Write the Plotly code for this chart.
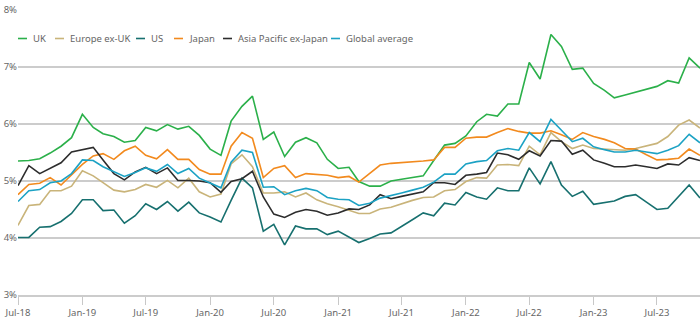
import pandas as pd
import plotly.graph_objects as go

months = pd.date_range("2018-07-01", "2023-11-01", freq="MS")

uk = [5.35, 5.36, 5.39, 5.49, 5.61, 5.76, 6.17, 5.94, 5.83, 5.78, 5.68, 5.71, 5.94, 5.88, 5.99, 5.91,
      5.96, 5.80, 5.56, 5.45, 6.05, 6.31, 6.49, 5.73, 5.86, 5.43, 5.68, 5.76, 5.67, 5.38, 5.22, 5.24,
      4.99, 4.91, 4.91, 5.00, 5.03, 5.06, 5.09, 5.36, 5.63, 5.66, 5.79, 6.04, 6.17, 6.14, 6.35, 6.35,
      7.08, 6.79, 7.57, 7.36, 6.96, 6.98, 6.71, 6.59, 6.46, 6.51, 6.56, 6.61, 6.66, 6.76, 6.72, 7.16, 6.98]
europe = [4.22, 4.57, 4.59, 4.83, 4.83, 4.91, 5.18, 5.09, 4.97, 4.84, 4.81, 4.85, 4.94, 4.89, 5.01, 4.88,
          5.05, 4.81, 4.72, 4.77, 5.30, 5.46, 5.25, 4.79, 4.79, 4.81, 4.72, 4.79, 4.67, 4.60, 4.55, 4.48,
          4.43, 4.43, 4.51, 4.54, 4.60, 4.66, 4.71, 4.72, 4.83, 4.85, 4.99, 5.06, 5.05, 5.28, 5.29, 5.27,
          5.61, 5.46, 5.85, 5.69, 5.57, 5.63, 5.57, 5.56, 5.55, 5.54, 5.57, 5.61, 5.66, 5.78, 5.98, 6.07, 5.93]
us = [4.01, 4.01, 4.19, 4.20, 4.29, 4.43, 4.67, 4.67, 4.48, 4.49, 4.26, 4.39, 4.60, 4.50, 4.64, 4.47,
      4.63, 4.44, 4.37, 4.28, 4.66, 5.05, 4.88, 4.12, 4.24, 3.88, 4.21, 4.16, 4.16, 4.06, 4.12, 4.02,
      3.92, 3.99, 4.07, 4.09, 4.21, 4.32, 4.44, 4.39, 4.61, 4.58, 4.80, 4.72, 4.68, 4.88, 4.83, 4.83,
      5.23, 4.95, 5.34, 4.93, 4.73, 4.82, 4.59, 4.62, 4.65, 4.73, 4.76, 4.63, 4.50, 4.52, 4.73, 4.93, 4.70]
japan = [4.76, 4.94, 4.96, 5.06, 4.93, 5.10, 5.29, 5.44, 5.48, 5.38, 5.53, 5.61, 5.45, 5.39, 5.55, 5.38,
         5.38, 5.20, 5.12, 5.12, 5.61, 5.85, 5.75, 5.06, 5.22, 5.27, 5.06, 5.13, 5.12, 5.10, 5.06, 5.08,
         4.98, 5.13, 5.28, 5.31, 5.32, 5.34, 5.35, 5.37, 5.59, 5.59, 5.75, 5.77, 5.77, 5.85, 5.92, 5.87,
         5.84, 5.84, 5.88, 5.81, 5.73, 5.85, 5.78, 5.73, 5.67, 5.57, 5.56, 5.46, 5.37, 5.38, 5.40, 5.56, 5.45]
asia = [4.92, 5.27, 5.13, 5.22, 5.32, 5.51, 5.55, 5.59, 5.37, 5.13, 5.02, 5.16, 5.24, 5.13, 5.23, 5.01,
        5.01, 5.00, 4.97, 4.80, 4.99, 5.04, 5.17, 4.72, 4.42, 4.36, 4.45, 4.50, 4.47, 4.40, 4.44, 4.51,
        4.50, 4.58, 4.76, 4.69, 4.73, 4.77, 4.81, 4.97, 4.97, 4.94, 5.10, 5.12, 5.15, 5.49, 5.46, 5.38,
        5.53, 5.44, 5.71, 5.70, 5.47, 5.54, 5.37, 5.31, 5.25, 5.25, 5.28, 5.25, 5.22, 5.30, 5.28, 5.41, 5.36]
glob = [4.64, 4.83, 4.85, 4.97, 5.00, 5.13, 5.37, 5.36, 5.25, 5.16, 5.08, 5.15, 5.23, 5.17, 5.29, 5.13,
        5.22, 5.05, 4.97, 4.88, 5.33, 5.54, 5.50, 4.89, 4.90, 4.76, 4.83, 4.87, 4.83, 4.71, 4.68, 4.67,
        4.57, 4.61, 4.70, 4.74, 4.79, 4.84, 4.89, 4.98, 5.12, 5.12, 5.30, 5.34, 5.36, 5.53, 5.57, 5.54,
        5.85, 5.69, 6.08, 5.89, 5.69, 5.75, 5.60, 5.55, 5.51, 5.51, 5.54, 5.51, 5.48, 5.54, 5.62, 5.82, 5.67]

names = ["UK", "Europe ex-UK", "US", "Japan", "Asia Pacific ex-Japan", "Global average"]
series = [uk, europe, us, japan, asia, glob]
colors = ["#2bb04a", "#c9b47a", "#17706f", "#f28a1e", "#2d2d2d", "#1ca2c4"]
legend_x_px = [18, 55, 136, 174, 223, 331]   # legend entry start (px)

tick_vals = pd.date_range("2018-07-01", "2023-07-01", freq="6MS")
y_ticks = [3, 4, 5, 6, 7, 8]

W, H = 700, 322
L, R, T, B = 18, 0, 10, 27
plot_w = W - L - R

fig = go.Figure()
for n, s, c in zip(names, series, colors):
    fig.add_trace(go.Scatter(x=months, y=s, name=n, mode="lines",
                             line=dict(color=c, width=1.6)))

# custom compact legend
for n, c, px in zip(names, colors, legend_x_px):
    x0 = (px - L) / plot_w
    x1 = (px + 9 - L) / plot_w
    fig.add_shape(type="line", xref="paper", yref="y", x0=x0, x1=x1, y0=7.5, y1=7.5,
                  line=dict(color=c, width=1.6))
    fig.add_annotation(xref="paper", yref="y", x=(px + 13 - L) / plot_w, y=7.5,
                       text=n, showarrow=False, xanchor="left", yanchor="middle",
                       font=dict(size=9.5, color="#666666", family="Noto Sans"))

fig.update_layout(
    width=W, height=H,
    margin=dict(l=L, r=R, t=T, b=B),
    paper_bgcolor="white", plot_bgcolor="white",
    showlegend=False,
    font=dict(family="Noto Sans", size=9.5, color="#666666"),
)
fig.update_xaxes(
    range=[months[0], months[-1]],
    tickvals=tick_vals, tickformat="%b-%y",
    showgrid=False, zeroline=False,
    showline=True, linecolor="#cccccc", linewidth=1.6,
    ticks="outside", ticklen=8, tickcolor="#c8c8c8", tickwidth=1,
    tickfont=dict(size=9.5, color="#666666"),
)
fig.update_yaxes(
    range=[3, 8], tickvals=y_ticks, ticktext=[f"{v}%" for v in y_ticks],
    showgrid=True, gridcolor="#cccccc", gridwidth=1.6,
    zeroline=False, showline=False, ticks="",
    tickfont=dict(size=9.5, color="#666666"),
)
fig.write_html("out.html")
